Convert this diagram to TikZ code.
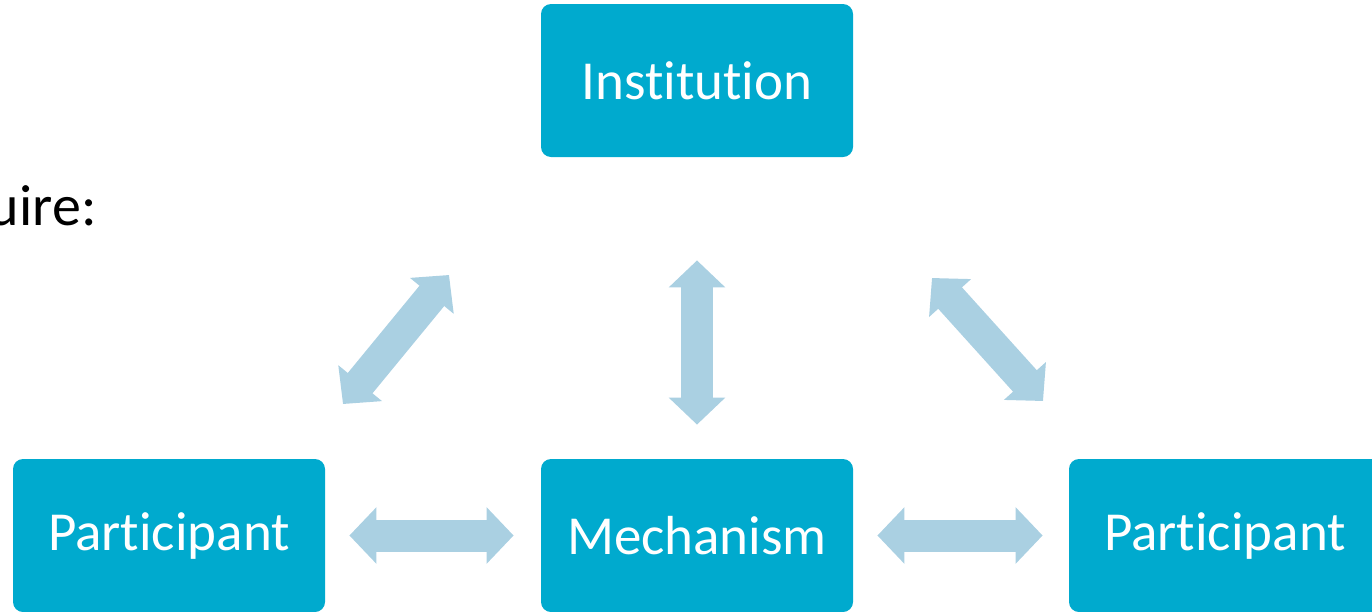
\documentclass[tikz,border=0pt]{standalone}
\usepackage{fontspec}
\setmainfont{Carlito}[Ligatures={NoCommon,NoContextual}]
\usepackage{xcolor}
\usetikzlibrary{positioning,arrows.meta}

\definecolor{boxblue}{RGB}{0,170,206}
\definecolor{arrowblue}{RGB}{170,208,226}

\begin{document}
\begin{tikzpicture}[x=1pt,y=-1pt,thick]
    \tikzstyle{block}=[rectangle,fill=boxblue,text=white,rounded corners=10pt,
        minimum width=312pt,minimum height=153pt,inner sep=0pt,
        font=\fontsize{55}{60}\selectfont]
    \tikzstyle{dbl}=[draw=arrowblue,line width=32pt,
        {Triangle[length=27pt,width=55pt]}-{Triangle[length=27pt,width=55pt]}]

    \useasboundingbox (0,0) rectangle (1372,611);

    \node[anchor=base east,inner sep=0pt,font=\fontsize{58}{60}\selectfont] (req) at (97,225) {uire:};

    \node[block] (inst) at (697,80.5)  {Institution};
    \node[block] (ppl)  at (169,535.5) {Participant};
    \node[block] (mech) at (697,535.5) {Mechanism};
    \node[block] (ppr)  at (1225,535.5) {Participant};

    \coordinate (dl1) at (343,404);
    \coordinate (dl2) at (449,275);
    \coordinate (dr1) at (932,278);
    \coordinate (dr2) at (1043,401);

    \draw[dbl,shorten <=24pt,shorten >=27pt] (ppl.east) -- (mech.west);
    \draw[dbl,shorten <=24pt,shorten >=26pt] (mech.east) -- (ppr.west);
    \draw[dbl,shorten <=103pt,shorten >=34pt] (inst.south) -- (mech.north);
    \draw[dbl] (dl1) -- (dl2);
    \draw[dbl] (dr1) -- (dr2);
\end{tikzpicture}
\end{document}
